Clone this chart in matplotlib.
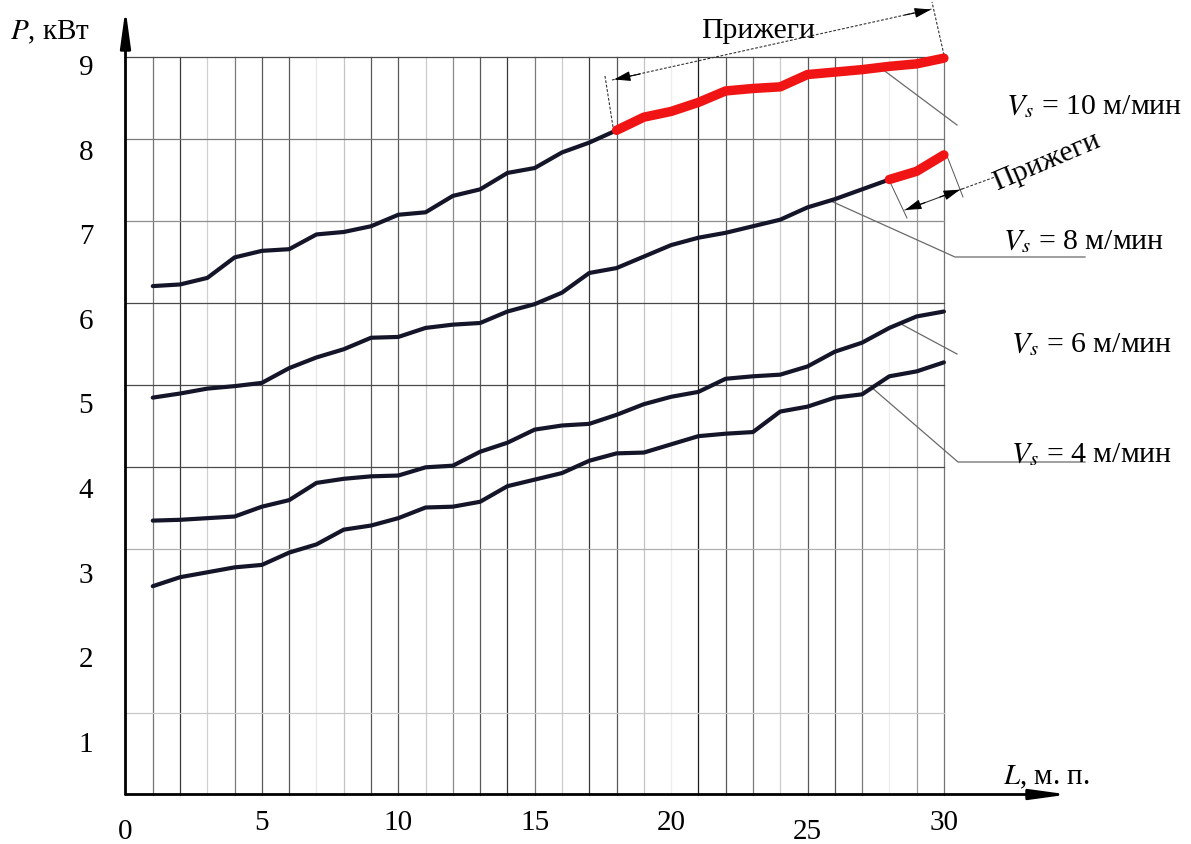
import numpy as np
import matplotlib
matplotlib.use("Agg")
import matplotlib.pyplot as plt

plt.rcParams['font.family'] = ['Liberation Serif', 'DejaVu Serif']
plt.rcParams['mathtext.fontset'] = 'stix'

# ---------------- data ----------------
L = list(range(1, 31))
P_vs10 = [6.20, 6.22, 6.30, 6.55, 6.63, 6.65, 6.83, 6.86, 6.93, 7.07,
          7.10, 7.30, 7.38, 7.58, 7.64, 7.83, 7.95, 8.10, 8.26, 8.33,
          8.44, 8.58, 8.61, 8.63, 8.78, 8.81, 8.84, 8.88, 8.91, 8.98]
P_vs8 = [4.84, 4.89, 4.95, 4.98, 5.02, 5.20, 5.33, 5.43, 5.57, 5.58,
         5.69, 5.73, 5.75, 5.89, 5.98, 6.12, 6.36, 6.42, 6.56, 6.70,
         6.79, 6.85, 6.93, 7.01, 7.16, 7.26, 7.38, 7.50, 7.60, 7.80]
P_vs6 = [3.34, 3.35, 3.37, 3.39, 3.51, 3.59, 3.80, 3.85, 3.88, 3.89,
         3.99, 4.01, 4.18, 4.29, 4.45, 4.50, 4.52, 4.63, 4.76, 4.85,
         4.91, 5.07, 5.10, 5.12, 5.22, 5.40, 5.51, 5.69, 5.83, 5.89]
P_vs4 = [2.54, 2.65, 2.71, 2.77, 2.80, 2.95, 3.05, 3.23, 3.28, 3.37,
         3.50, 3.51, 3.57, 3.76, 3.84, 3.92, 4.07, 4.16, 4.17, 4.27,
         4.37, 4.40, 4.42, 4.67, 4.73, 4.84, 4.88, 5.10, 5.16, 5.27]
burn_start_vs10 = 18   # L from which burns ("Прижеги") appear
burn_start_vs8 = 28

x_ticks = [0, 5, 10, 15, 20, 25, 30]
y_ticks = [1, 2, 3, 4, 5, 6, 7, 8, 9]
y_grid = [1, 3, 4, 5, 6, 7, 8, 9]
labels_vs = ["$V_s$ = 10 м/мин", "$V_s$ = 8 м/мин", "$V_s$ = 6 м/мин", "$V_s$ = 4 м/мин"]
burn_label = "Прижеги"

# ---------------- styles / layout ----------------
v_grid_colors = ['#747474', '#383838', '#d0d0d0', '#7a7a7a', '#585858', '#585858',
                 '#e8e8e8', '#c4c4c4', '#585858', '#585858', '#cccccc', '#8a8a8a',
                 '#585858', '#383838', '#7a7a7a', '#cccccc', '#383838', '#585858',
                 '#c4c4c4', '#ececec', '#1e1e1e', '#585858', '#7a7a7a', '#cccccc',
                 '#585858', '#585858', '#7a7a7a', '#eeeeee', '#9c9c9c', '#747474']
h_grid_colors = ['#c8c8c8', '#b0b0b0', '#4a4a4a', '#4a4a4a', '#4a4a4a', '#8e8e8e', '#7a7a7a', '#4a4a4a']

W, H = 1191, 845
X0, SX = 125.5, 27.28
Y0, SY = 795.5, 82.0


def X(p):
    return (p - X0) / SX


def Y(p):
    return (Y0 - p) / SY


fig = plt.figure(figsize=(W / 100, H / 100), dpi=100)
ax = fig.add_axes([0, 0, 1, 1])
ax.set_xlim(X(0), X(W))
ax.set_ylim(Y(H), Y(0))
ax.axis('off')

# grid
for xv, c in zip(L, v_grid_colors):
    ax.plot([xv, xv], [0, y_ticks[-1]], color=c, lw=0.9, zorder=1)
for yv, c in zip(y_grid, h_grid_colors):
    ax.plot([0, L[-1]], [yv, yv], color=c, lw=0.9, zorder=1)

# axes with arrows
ax.annotate('', xy=(0, Y(10)), xytext=(0, 0),
            arrowprops=dict(arrowstyle='-|>,head_length=1.6,head_width=0.22',
                            lw=2.0, color='black', shrinkA=0, shrinkB=0,
                            mutation_scale=14), zorder=5)
ax.annotate('', xy=(X(1068), 0), xytext=(0, 0),
            arrowprops=dict(arrowstyle='-|>,head_length=1.6,head_width=0.22',
                            lw=2.0, color='black', shrinkA=0, shrinkB=0,
                            mutation_scale=14), zorder=5)

# curves
curve_color = '#15152a'
red = '#f01414'
for P in (P_vs10, P_vs8, P_vs6, P_vs4):
    ax.plot(L, P, color=curve_color, lw=3.0, solid_capstyle='round',
            solid_joinstyle='round', zorder=3)
i10 = L.index(burn_start_vs10)
i8 = L.index(burn_start_vs8)
ax.plot(L[i10:], P_vs10[i10:], color=red, lw=6.8, solid_capstyle='round',
        solid_joinstyle='round', zorder=4)
ax.plot(L[i8:], P_vs8[i8:], color=red, lw=6.8, solid_capstyle='round',
        solid_joinstyle='round', zorder=4)

# tick labels
fs = 21
for k in x_ticks:
    dy = 9 if k in (0, 25) else 0
    ax.text(k, Y(823 + dy), str(k), fontsize=fs, ha='center', va='center')
for k in y_ticks:
    ypix = 68 + 84.6 * (9 - k)
    ax.text(X(86), Y(ypix), str(k), fontsize=fs, ha='center', va='center')

# axis titles
ax.text(X(10), Y(32), "$P$, кВт", fontsize=21, ha='left', va='center')
ax.text(X(1003), Y(777), "$L$, м. п.", fontsize=21, ha='left', va='center')

# ---- leaders and series labels ----
lead_c = '#6a6a6a'


def leader(x_anchor, P, pts):
    y_anchor = np.interp(x_anchor, L, P)
    xs = [x_anchor] + [X(p[0]) for p in pts]
    ys = [y_anchor] + [Y(p[1]) for p in pts]
    ax.plot(xs, ys, color=lead_c, lw=0.9, zorder=2)


leader(X(880), P_vs10, [(957, 126)])
leader(X(830), P_vs8, [(955, 258), (1085, 258)])
leader(X(900), P_vs6, [(957, 355)])
leader(X(872), P_vs4, [(958, 463), (1085, 463)])

lfs = 21.5
ax.text(X(1006), Y(114), labels_vs[0], fontsize=lfs, ha='left', va='baseline')
ax.text(X(1003), Y(249), labels_vs[1], fontsize=lfs, ha='left', va='baseline')
ax.text(X(1011), Y(352), labels_vs[2], fontsize=lfs, ha='left', va='baseline')
ax.text(X(1011), Y(462), labels_vs[3], fontsize=lfs, ha='left', va='baseline', zorder=6)

# ---- dimension ("Прижеги") annotations ----
dim_c = '#333333'
dash = (0, (2.5, 1.5))


def arrow_head(tip, tail):
    ax.annotate('', xy=(X(tip[0]), Y(tip[1])), xytext=(X(tail[0]), Y(tail[1])),
                arrowprops=dict(arrowstyle='-|>,head_length=1.0,head_width=0.3',
                                lw=0.8, color='black', shrinkA=0, shrinkB=0,
                                mutation_scale=10), zorder=5)


def seg(p1, p2, ls=dash, c=dim_c, lw=0.8):
    ax.plot([X(p1[0]), X(p2[0])], [Y(p1[1]), Y(p2[1])], color=c, lw=lw, ls=ls, zorder=2)


# top dimension (Vs = 10)
seg((613, 128), (605, 77))
seg((944, 56), (932, 3))
seg((612, 81), (932, 10))
arrow_head((614, 80.5), (640, 75))
arrow_head((931, 10.5), (905, 16))
ax.text(X(758), Y(31), burn_label, fontsize=lfs, ha='center', va='center')

# second dimension (Vs = 8)
seg((890, 183), (907, 219), ls='-', c='#555555', lw=0.7)
seg((947, 157), (963, 198), ls='-', c='#555555', lw=0.7)
seg((905, 211), (962, 190), ls='-', c='#333333', lw=0.8)
seg((962, 190), (995, 178))
arrow_head((905, 211), (925, 203.6))
arrow_head((960, 190.7), (940, 198))
ax.text(X(1047), Y(162), burn_label, fontsize=lfs, ha='center', va='center',
        rotation=23, rotation_mode='anchor')

fig.savefig('out.png', dpi=100)
